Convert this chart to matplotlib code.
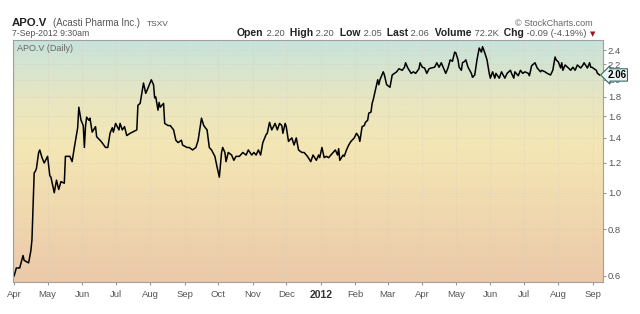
import matplotlib
matplotlib.use("Agg")
import matplotlib.pyplot as plt
import matplotlib.dates as mdates
from matplotlib.colors import LinearSegmentedColormap
from matplotlib.ticker import FixedLocator, NullLocator, FixedFormatter
import numpy as np
import pandas as pd

plt.rcParams['font.family'] = ['Liberation Sans', 'DejaVu Sans']

# daily closes (approximate)
dates = [
    "2011-04-01", "2011-04-03", "2011-04-06", "2011-04-09", "2011-04-10", "2011-04-14", "2011-04-16",
    "2011-04-17", "2011-04-19", "2011-04-20", "2011-04-21", "2011-04-23", "2011-04-24", "2011-04-26",
    "2011-04-28", "2011-05-01", "2011-05-03", "2011-05-04", "2011-05-07", "2011-05-09", "2011-05-11",
    "2011-05-13", "2011-05-16", "2011-05-17", "2011-05-21", "2011-05-23", "2011-05-25", "2011-05-28",
    "2011-05-29", "2011-05-31", "2011-06-02", "2011-06-03", "2011-06-04", "2011-06-05", "2011-06-07",
    "2011-06-08", "2011-06-10", "2011-06-13", "2011-06-14", "2011-06-18", "2011-06-22", "2011-06-24",
    "2011-06-26", "2011-06-28", "2011-06-29", "2011-07-01", "2011-07-04", "2011-07-05", "2011-07-07",
    "2011-07-09", "2011-07-11", "2011-07-14", "2011-07-20", "2011-07-21", "2011-07-23", "2011-07-26",
    "2011-07-28", "2011-07-30", "2011-08-02", "2011-08-04", "2011-08-05", "2011-08-06", "2011-08-08",
    "2011-08-09", "2011-08-10", "2011-08-13", "2011-08-14", "2011-08-17", "2011-08-19", "2011-08-22",
    "2011-08-24", "2011-08-26", "2011-08-29", "2011-08-30", "2011-09-03", "2011-09-05", "2011-09-08",
    "2011-09-11", "2011-09-13", "2011-09-16", "2011-09-18", "2011-09-21", "2011-09-23", "2011-09-25",
    "2011-09-28", "2011-09-30", "2011-10-02", "2011-10-04", "2011-10-05", "2011-10-07", "2011-10-08",
    "2011-10-10", "2011-10-13", "2011-10-15", "2011-10-17", "2011-10-20", "2011-10-23", "2011-10-26",
    "2011-10-28", "2011-10-31", "2011-11-02", "2011-11-04", "2011-11-06", "2011-11-08", "2011-11-10",
    "2011-11-13", "2011-11-14", "2011-11-16", "2011-11-18", "2011-11-21", "2011-11-23", "2011-11-25",
    "2011-11-27", "2011-11-28", "2011-11-30", "2011-12-01", "2011-12-03", "2011-12-06", "2011-12-08",
    "2011-12-10", "2011-12-12", "2011-12-15", "2011-12-17", "2011-12-20", "2011-12-23", "2011-12-25",
    "2011-12-28", "2011-12-30", "2011-12-31", "2012-01-02", "2012-01-04", "2012-01-06", "2012-01-08",
    "2012-01-12", "2012-01-14", "2012-01-16", "2012-01-17", "2012-01-18", "2012-01-21", "2012-01-22",
    "2012-01-24", "2012-01-26", "2012-01-28", "2012-01-31", "2012-02-02", "2012-02-04", "2012-02-05",
    "2012-02-07", "2012-02-09", "2012-02-10", "2012-02-12", "2012-02-13", "2012-02-15", "2012-02-16",
    "2012-02-17", "2012-02-19", "2012-02-21", "2012-02-22", "2012-02-23", "2012-02-26", "2012-02-27",
    "2012-02-29", "2012-03-03", "2012-03-05", "2012-03-07", "2012-03-09", "2012-03-11", "2012-03-14",
    "2012-03-16", "2012-03-17", "2012-03-19", "2012-03-22", "2012-03-24", "2012-03-26", "2012-03-29",
    "2012-03-30", "2012-04-01", "2012-04-03", "2012-04-05", "2012-04-07", "2012-04-09", "2012-04-12",
    "2012-04-14", "2012-04-16", "2012-04-18", "2012-04-20", "2012-04-22", "2012-04-24", "2012-04-26",
    "2012-04-28", "2012-04-30", "2012-05-01", "2012-05-03", "2012-05-04", "2012-05-06", "2012-05-07",
    "2012-05-09", "2012-05-10", "2012-05-12", "2012-05-15", "2012-05-16", "2012-05-18", "2012-05-20",
    "2012-05-22", "2012-05-23", "2012-05-24", "2012-05-25", "2012-05-27", "2012-05-29", "2012-05-31",
    "2012-06-01", "2012-06-03", "2012-06-05", "2012-06-06", "2012-06-09", "2012-06-11", "2012-06-14",
    "2012-06-16", "2012-06-19", "2012-06-20", "2012-06-22", "2012-06-23", "2012-06-26", "2012-06-28",
    "2012-06-30", "2012-07-02", "2012-07-05", "2012-07-06", "2012-07-08", "2012-07-11", "2012-07-13",
    "2012-07-16", "2012-07-17", "2012-07-20", "2012-07-22", "2012-07-25", "2012-07-27", "2012-07-29",
    "2012-07-30", "2012-08-01", "2012-08-03", "2012-08-04", "2012-08-05", "2012-08-07", "2012-08-10",
    "2012-08-12", "2012-08-14", "2012-08-16", "2012-08-18", "2012-08-21", "2012-08-23", "2012-08-24",
    "2012-08-27", "2012-08-29", "2012-08-30", "2012-08-31", "2012-09-04", "2012-09-05", "2012-09-07",
]
closes = [
    0.60, 0.63, 0.63, 0.68, 0.66, 0.65, 0.70,
    0.75, 1.13, 1.14, 1.16, 1.28, 1.30, 1.24,
    1.20, 1.25, 1.11, 1.10, 1.00, 1.08, 1.02,
    1.07, 1.06, 1.25, 1.25, 1.21, 1.32, 1.49,
    1.69, 1.56, 1.51, 1.32, 1.50, 1.59, 1.56,
    1.58, 1.45, 1.50, 1.41, 1.37, 1.32, 1.32,
    1.44, 1.49, 1.45, 1.53, 1.47, 1.53, 1.47,
    1.50, 1.42, 1.44, 1.47, 1.71, 1.73, 1.96,
    1.84, 1.90, 2.00, 1.94, 1.79, 1.80, 1.66,
    1.74, 1.69, 1.73, 1.53, 1.51, 1.51, 1.47,
    1.38, 1.36, 1.38, 1.34, 1.32, 1.32, 1.30,
    1.32, 1.38, 1.58, 1.51, 1.47, 1.32, 1.30,
    1.25, 1.17, 1.10, 1.28, 1.32, 1.28, 1.21,
    1.28, 1.26, 1.22, 1.25, 1.25, 1.28, 1.26,
    1.30, 1.26, 1.28, 1.26, 1.30, 1.26, 1.36,
    1.43, 1.44, 1.54, 1.47, 1.53, 1.47, 1.53,
    1.51, 1.44, 1.53, 1.50, 1.37, 1.40, 1.34,
    1.40, 1.30, 1.28, 1.28, 1.25, 1.21, 1.26,
    1.22, 1.26, 1.24, 1.32, 1.24, 1.25, 1.24,
    1.28, 1.30, 1.26, 1.31, 1.22, 1.26, 1.25,
    1.30, 1.34, 1.37, 1.40, 1.44, 1.41, 1.37,
    1.50, 1.51, 1.54, 1.56, 1.63, 1.64, 1.73,
    1.77, 1.88, 2.00, 1.94, 2.00, 2.10, 2.06,
    1.94, 1.91, 2.06, 2.08, 2.10, 2.14, 2.12,
    2.16, 2.22, 2.15, 2.08, 2.10, 2.08, 2.14,
    2.22, 2.16, 2.15, 2.08, 2.14, 2.15, 2.16,
    2.22, 2.16, 2.22, 2.15, 2.08, 2.15, 2.26,
    2.24, 2.37, 2.36, 2.26, 2.16, 2.12, 2.22,
    2.24, 2.26, 2.16, 2.08, 2.03, 2.06, 2.26,
    2.43, 2.40, 2.37, 2.45, 2.36, 2.26, 2.08,
    2.02, 2.10, 2.02, 2.08, 2.02, 2.10, 2.02,
    2.08, 2.12, 2.08, 2.02, 2.10, 2.05, 2.12,
    2.08, 2.10, 2.08, 2.05, 2.18, 2.22, 2.15,
    2.10, 2.12, 2.10, 2.08, 2.06, 2.12, 2.30,
    2.26, 2.23, 2.15, 2.22, 2.12, 2.19, 2.15,
    2.12, 2.16, 2.12, 2.19, 2.15, 2.19, 2.22,
    2.15, 2.22, 2.16, 2.16, 2.12, 2.08, 2.06,
]

y_ticks = [0.6, 0.8, 1.0, 1.2, 1.4, 1.6, 1.8, 2.0, 2.2, 2.4]
y_labels = ["0.6", "0.8", "1.0", "1.2", "1.4", "1.6", "1.8", "2.0", "2.2", "2.4"]
month_ticks = pd.date_range("2011-04-01", "2012-09-01", freq="MS")
month_labels = [str(d.year) if d.month == 1 else d.strftime("%b") for d in month_ticks]

header_runs = [
    ("Open", "bold"), (" 2.20", "normal"), ("  High", "bold"), (" 2.20", "normal"),
    ("  Low", "bold"), (" 2.05", "normal"), ("  Last", "bold"), (" 2.06", "normal"),
    ("  Volume", "bold"), (" 72.2K", "normal"), ("  Chg", "bold"), (" -0.09 (-4.19%)", "normal"),
]

W, H = 640, 314
fig = plt.figure(figsize=(W / 100, H / 100), dpi=100)
fig.patch.set_facecolor("white")

left, right, top, bottom = 13, 603, 40, 282
rect = [left / W, 1 - bottom / H, (right - left) / W, (bottom - top) / H]

# gradient background in its own axes
bg = fig.add_axes(rect, zorder=0)
cmap = LinearSegmentedColormap.from_list(
    "bg", [(0.0, "#ebc9a9"), (0.55, "#f4e6b4"), (0.75, "#e9e6c0"), (1.0, "#c7e3dc")])
bg.imshow(np.linspace(0, 1, 256).reshape(-1, 1), cmap=cmap, aspect="auto",
          origin="lower", extent=[0, 1, 0, 1])
bg.set_axis_off()

ax = fig.add_axes(rect, zorder=1)
ax.set_facecolor("none")
ax.plot(pd.to_datetime(dates), closes, color="black", linewidth=1.1)

ax.set_yscale("log")
ax.set_ylim(0.578, 2.553)
ax.set_xlim(pd.Timestamp("2011-03-31"), pd.Timestamp("2012-09-10"))

ax.yaxis.set_major_locator(FixedLocator(y_ticks))
ax.yaxis.set_major_formatter(FixedFormatter(y_labels))
ax.yaxis.set_minor_locator(NullLocator())
ax.yaxis.tick_right()
ax.xaxis.set_major_locator(FixedLocator(mdates.date2num(month_ticks)))
ax.xaxis.set_major_formatter(FixedFormatter(month_labels))
ax.tick_params(axis="y", length=2, pad=1.5, labelsize=6.8, colors="#999999", labelcolor="#555555")
ax.tick_params(axis="x", length=2, pad=4, labelsize=6.8, colors="#999999", labelcolor="#555555")
for lbl in ax.get_xticklabels():
    if lbl.get_text() == "2012":
        lbl.set_fontweight("bold")
        lbl.set_color("#333333")
        lbl.set_fontsize(7.5)

ax.grid(True, linestyle=":", linewidth=0.5, color="#d6cfbd")
for sp in ax.spines.values():
    sp.set_color("#a0a0a0")
    sp.set_linewidth(0.8)

ax.text(0.006, 0.985, "APO.V (Daily)", transform=ax.transAxes, fontsize=6.5,
        color="#666666", va="top", ha="left")

# last price tag
ax.annotate("2.06", xy=(1.0, closes[-1]), xycoords=("axes fraction", "data"),
            xytext=(3, 0), textcoords="offset points", fontsize=7, fontweight="bold",
            color="black", va="center", ha="left", annotation_clip=False, zorder=5,
            bbox=dict(boxstyle="larrow,pad=0.12", fc="#eef6f4", ec="#2e6b6b", lw=0.8))

# header
fig.text(12 / W, 1 - 26 / H, "APO.V", fontsize=8.2, fontweight="bold", color="#222222",
         va="baseline")
fig.text(53 / W, 1 - 26 / H, "(Acasti Pharma Inc.)", fontsize=6.9, color="#555555",
         va="baseline")
fig.text(147 / W, 1 - 26 / H, "TSXV", fontsize=6.0, color="#555555", va="baseline")
fig.text(12 / W, 1 - 36 / H, "7-Sep-2012 9:30am", fontsize=6.3, color="#555555",
         va="baseline")
fig.text(593 / W, 1 - 26 / H, "\u00a9 StockCharts.com", fontsize=6.5, color="#666666",
         va="baseline", ha="right")

renderer = fig.canvas.get_renderer()
x = 237.0
for txt, weight in header_runs:
    t = fig.text(x / W, 1 - 36 / H, txt, fontsize=7.45 if weight == "bold" else 6.7,
                 fontweight=weight, color="#222222" if weight == "bold" else "#555555",
                 va="baseline", ha="left")
    x += t.get_window_extent(renderer=renderer).width
fig.text((x + 3) / W, 1 - 36 / H, "\u25bc", fontsize=5, color="#a01020",
         family="DejaVu Sans", va="baseline", ha="left")

fig.savefig("out.png", dpi=100)
